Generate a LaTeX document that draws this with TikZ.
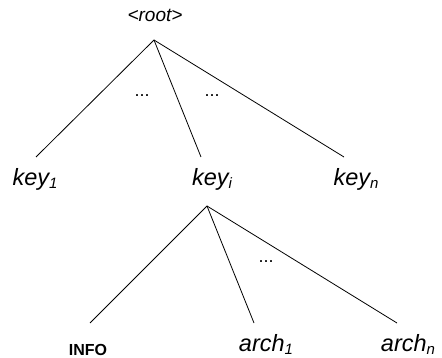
\documentclass[tikz,border=0pt]{standalone}
\usepackage{fontspec}
\setmainfont{Liberation Sans}
\newcommand{\mysub}[1]{\raisebox{-3pt}{\fontsize{15}{15}\selectfont #1}}
\begin{document}
\begin{tikzpicture}[x=1pt,y=-1pt,
  edge/.style={draw=black,line width=0.8pt},
  big/.style={font=\fontsize{23.5}{23.5}\selectfont\itshape,inner sep=0pt,anchor=base},
  small/.style={font=\fontsize{19}{19}\selectfont\itshape,inner sep=0pt,anchor=base},
  dots/.style={font=\fontsize{18}{18}\selectfont,inner sep=0pt,anchor=base},
  info/.style={font=\fontsize{16}{16}\selectfont\bfseries,inner sep=0pt,anchor=base}]
\useasboundingbox (0,0) rectangle (442,358);
% root
\node[small] (root) at (155,21.5) {<root>};
\coordinate (ra) at (154,40);
\coordinate (e1) at (36,157);
\coordinate (ei) at (201,157);
\coordinate (en) at (344,157);
\draw[edge] (ra) -- (e1);
\draw[edge] (ra) -- (ei);
\draw[edge] (ra) -- (en);
\node[dots] (d1) at (142,97) {...};
\node[dots] (d2) at (212,97) {...};
% keys
\node[big] (k1) at (35,186) {key\mysub{1}};
\node[big] (ki) at (212,186) {key\mysub{i}};
\node[big] (kn) at (356,186) {key\mysub{n}};
% second level
\coordinate (ka) at (207,206);
\coordinate (f1) at (90,323);
\coordinate (f2) at (254,323);
\coordinate (f3) at (397,323);
\draw[edge] (ka) -- (f1);
\draw[edge] (ka) -- (f2);
\draw[edge] (ka) -- (f3);
\node[dots] (d3) at (266,262) {...};
\node[info] (info) at (88,355) {INFO};
\node[big] (a1) at (266,351) {arch\mysub{1}};
\node[big] (an) at (408,351) {arch\mysub{n}};
\end{tikzpicture}
\end{document}
